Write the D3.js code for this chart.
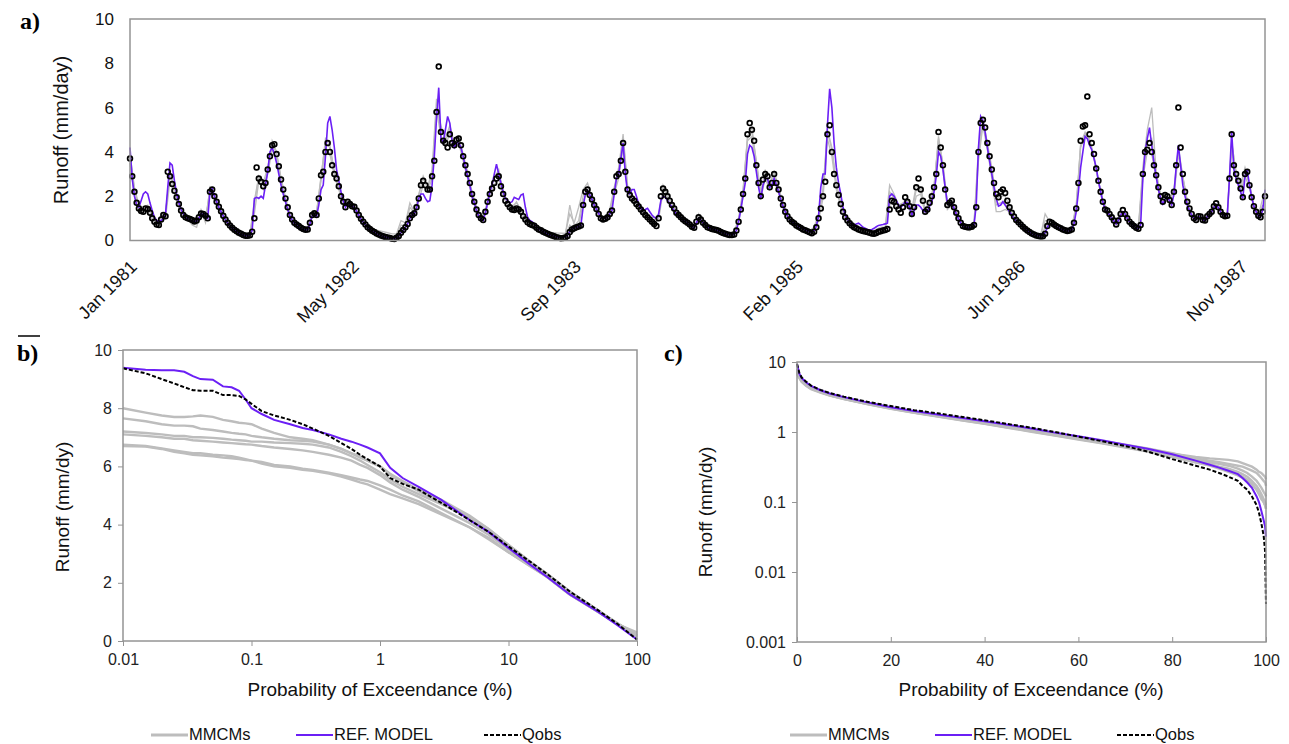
<!DOCTYPE html>
<html>
<head>
<meta charset="utf-8">
<script src="https://cdn.jsdelivr.net/npm/d3@7"></script>
<style>
body { margin: 0; background: #fff; }
</style>
</head>
<body>
<div id="chart"></div>
<script>
// ---- panel a: daily runoff 1981-1987 (read every 5 / 10 days) ----
var startDate = new Date(Date.UTC(1981, 0, 1));
var lastDay = 2555;
var obsStep = 5;
var mmStep = 10;
var dateTickDays = [0, 500, 1000, 1500, 2000, 2500];
var runoffTicks = [0, 2, 4, 6, 8, 10];

var qobsRunoff = [
 3.7,2.9,2.2,1.7,1.45,1.33,1.3,1.45,1.42,1.25,1.0,0.85,0.72,0.7,0.95,1.15,1.1,3.1,2.9,2.55,
 2.25,1.95,1.65,1.35,1.15,1.05,1.0,0.97,0.92,0.86,0.9,1.05,1.22,1.2,1.12,1.0,2.2,2.3,2.0,1.75,
 1.52,1.32,1.12,0.95,0.8,0.68,0.58,0.49,0.42,0.35,0.3,0.25,0.22,0.21,0.24,0.4,1.0,3.3,2.8,2.65,
 2.45,2.6,3.2,3.8,4.3,4.35,3.9,3.35,2.75,2.3,1.9,1.5,1.15,0.95,0.8,0.72,0.65,0.58,0.52,0.48,
 0.5,0.8,1.15,1.23,1.15,1.9,2.95,3.1,4.0,4.4,4.0,3.4,3.0,2.8,2.45,2.0,1.75,1.5,1.75,1.65,
 1.55,1.52,1.35,1.15,0.98,0.85,0.72,0.6,0.52,0.44,0.38,0.32,0.27,0.23,0.19,0.16,0.13,0.11,0.08,0.07,
 0.12,0.2,0.35,0.47,0.6,0.75,1.0,1.15,1.23,1.5,1.9,2.5,2.7,2.5,2.3,2.3,2.9,3.6,5.8,7.85,
 4.9,4.5,4.4,4.2,4.8,4.4,4.3,4.55,4.6,4.3,3.8,3.4,3.0,2.6,2.1,1.75,1.4,1.15,1.0,0.93,
 1.3,1.75,2.1,2.35,2.6,2.8,2.9,2.45,2.1,1.8,1.65,1.5,1.4,1.38,1.45,1.4,1.3,1.1,0.95,0.82,
 0.75,0.7,0.67,0.58,0.5,0.46,0.4,0.35,0.3,0.26,0.23,0.19,0.15,0.12,0.1,0.11,0.13,0.2,0.38,0.5,
 0.55,0.6,0.63,0.68,1.6,2.2,2.3,2.05,1.85,1.6,1.42,1.2,1.0,0.95,0.98,1.05,1.2,1.35,2.2,2.9,
 3.0,3.6,4.4,3.1,2.3,2.05,1.9,1.8,1.65,1.53,1.4,1.27,1.15,1.05,0.95,0.85,0.75,0.65,1.0,2.0,
 2.35,2.2,2.0,1.8,1.6,1.45,1.25,1.15,1.05,0.95,0.87,0.8,0.72,0.62,0.58,0.85,1.05,0.95,0.8,0.7,
 0.6,0.56,0.52,0.5,0.47,0.44,0.38,0.34,0.3,0.27,0.25,0.25,0.27,0.45,0.85,1.4,2.1,2.8,4.8,5.3,
 5.0,4.5,3.4,2.6,2.0,2.75,3.0,2.9,2.4,2.6,3.0,2.6,2.3,1.9,1.6,1.3,1.1,0.95,0.85,0.78,
 0.68,0.62,0.56,0.5,0.46,0.42,0.37,0.33,0.4,0.6,1.0,1.45,2.0,2.65,4.8,5.2,4.0,3.0,2.5,2.05,
 1.65,1.3,1.05,0.9,0.78,0.68,0.6,0.55,0.5,0.46,0.43,0.41,0.38,0.35,0.32,0.3,0.34,0.4,0.42,0.45,
 0.47,0.52,1.4,1.8,1.75,1.55,1.4,1.25,1.5,1.95,1.75,1.55,1.2,1.5,2.4,2.8,2.3,1.8,1.3,1.4,
 1.7,2.0,2.4,3.0,4.9,4.2,3.4,2.3,1.6,1.7,1.8,1.5,1.25,1.0,0.8,0.65,0.62,0.6,0.6,0.62,
 0.7,1.5,4.0,5.3,5.45,5.1,4.4,3.8,3.2,2.6,2.1,1.95,2.2,2.3,2.15,1.8,1.5,1.25,1.08,0.93,
 0.82,0.72,0.62,0.53,0.45,0.38,0.32,0.27,0.23,0.2,0.18,0.19,0.3,0.65,0.85,0.8,0.72,0.65,0.6,0.55,
 0.5,0.46,0.43,0.45,0.5,0.8,1.45,2.6,4.5,5.15,5.2,6.5,4.8,4.4,3.9,3.25,2.7,2.2,1.75,1.4,
 1.35,1.2,1.05,0.9,0.72,0.9,1.2,1.38,1.2,1.0,0.85,0.74,0.65,0.58,0.53,0.7,3.0,4.0,4.1,4.4,
 4.0,3.4,2.95,2.4,2.0,1.75,2.05,2.0,1.83,1.6,2.2,3.4,6.0,4.2,3.0,2.2,1.75,1.45,1.2,1.0,
 0.93,1.1,1.08,0.93,0.9,1.1,1.2,1.3,1.55,1.68,1.5,1.3,1.15,1.1,1.12,2.8,4.8,3.4,3.0,2.7,
 2.35,1.95,3.0,3.1,2.5,1.95,1.55,1.3,1.12,1.05,1.3,2.0
];

var refRunoff = [
 4.2,2.8,2.0,1.6,1.5,1.8,2.1,2.2,2.1,1.7,1.35,1.05,0.9,0.85,0.9,1.0,1.2,2.4,3.5,3.4,
 2.7,2.1,1.7,1.4,1.2,1.05,0.98,0.94,0.9,0.85,0.88,1.0,1.2,1.18,1.1,1.0,2.2,2.35,2.0,1.75,
 1.5,1.3,1.1,0.93,0.78,0.66,0.56,0.47,0.4,0.34,0.29,0.25,0.22,0.21,0.24,0.45,1.9,1.95,1.9,2.0,
 1.9,2.5,3.1,4.0,4.2,3.9,3.5,3.0,2.5,2.1,1.75,1.4,1.1,0.92,0.78,0.68,0.6,0.55,0.5,0.47,
 0.5,0.75,1.1,1.2,1.1,1.6,2.3,2.5,3.8,5.3,5.6,5.0,4.2,3.2,2.7,2.2,1.8,1.5,1.7,1.65,
 1.55,1.5,1.33,1.13,0.96,0.83,0.7,0.59,0.51,0.43,0.37,0.31,0.26,0.22,0.19,0.16,0.13,0.11,0.09,0.08,
 0.12,0.2,0.35,0.47,0.6,0.75,1.0,1.15,1.2,1.45,1.9,2.1,2.1,1.9,1.75,1.8,2.5,3.8,5.5,6.9,
 4.6,4.4,5.0,5.6,5.3,4.5,4.2,4.4,4.4,4.2,3.8,3.3,2.9,2.5,2.0,1.7,1.35,1.1,0.95,0.9,
 1.25,1.7,2.2,2.5,3.0,3.45,3.0,2.6,2.2,1.9,1.8,1.7,1.75,1.95,1.9,1.85,2.05,2.1,1.5,1.05,
 0.9,0.85,0.75,0.62,0.52,0.46,0.4,0.35,0.3,0.26,0.23,0.2,0.17,0.15,0.14,0.15,0.17,0.23,0.4,0.52,
 0.57,0.6,0.63,0.68,1.5,2.1,2.25,2.05,1.85,1.6,1.42,1.22,1.05,1.0,1.0,1.05,1.2,1.35,2.1,2.8,
 3.0,3.7,4.4,3.0,2.2,2.1,2.3,2.3,2.0,1.65,1.45,1.35,1.4,1.45,1.3,1.15,1.05,1.0,1.2,1.8,
 2.0,1.95,1.8,1.65,1.5,1.35,1.2,1.1,1.0,0.92,0.85,0.78,0.7,0.62,0.58,0.8,1.0,0.92,0.8,0.7,
 0.6,0.56,0.52,0.5,0.47,0.44,0.39,0.35,0.31,0.28,0.26,0.26,0.28,0.45,0.85,1.4,2.0,2.6,3.9,4.3,
 4.2,3.8,3.1,2.4,1.9,2.5,2.8,2.8,2.4,2.5,2.8,2.5,2.2,1.85,1.55,1.3,1.1,0.95,0.85,0.78,
 0.7,0.64,0.58,0.52,0.48,0.44,0.4,0.38,0.45,0.65,1.1,2.4,3.0,3.0,5.2,6.85,6.0,4.4,3.3,2.6,
 2.1,1.5,1.15,0.95,0.85,0.75,0.7,0.75,0.78,0.7,0.6,0.55,0.5,0.48,0.5,0.55,0.62,0.68,0.7,0.72,
 0.75,0.78,2.0,2.1,2.0,1.8,1.6,1.5,1.6,1.75,1.7,1.5,1.15,1.35,1.6,1.6,1.5,1.35,1.3,1.3,
 1.55,1.75,2.2,2.9,4.0,3.8,3.2,2.4,1.7,1.6,1.7,1.45,1.2,0.98,0.8,0.65,0.6,0.58,0.58,0.6,
 0.7,1.6,4.2,5.6,5.4,4.9,4.2,3.6,3.0,2.4,1.9,1.55,1.6,1.75,1.6,1.45,1.3,1.15,1.0,0.9,
 0.8,0.7,0.6,0.52,0.44,0.37,0.32,0.27,0.24,0.22,0.21,0.22,0.35,0.6,0.75,0.72,0.68,0.62,0.57,0.52,
 0.48,0.45,0.43,0.44,0.48,0.75,1.3,2.2,3.3,4.0,4.7,4.6,4.3,4.1,3.7,3.3,2.7,2.2,1.75,1.4,
 1.3,1.15,1.0,0.88,0.75,0.9,1.15,1.3,1.2,1.0,0.85,0.74,0.65,0.58,0.53,0.7,2.8,4.0,4.6,5.1,
 4.3,3.5,2.9,2.3,1.9,1.65,1.85,1.95,1.8,1.6,2.1,3.3,4.3,3.4,2.5,2.0,1.6,1.35,1.15,1.0,
 0.95,1.08,1.05,0.93,0.9,1.08,1.18,1.3,1.5,1.62,1.48,1.3,1.15,1.1,1.12,2.8,4.9,3.2,2.8,2.5,
 2.2,1.9,2.9,3.2,2.5,1.95,1.55,1.3,1.12,1.05,1.4,2.3
];

var mmcm1 = [
 3.9,2.4,1.6,1.5,1.6,1.1,0.8,1.0,1.3,3.0, 2.3,1.7,1.2,0.95,0.7,0.6,1.4,1.0,2.3,2.0,
 1.5,1.15,0.85,0.65,0.5,0.4,0.35,0.3,1.6,2.9, 2.6,3.3,4.4,3.9,2.8,1.9,1.2,0.85,0.7,0.6,
 0.55,1.3,1.3,2.8,4.6,4.3,3.1,2.5,1.8,1.7, 1.6,1.4,1.0,0.75,0.6,0.5,0.45,0.4,0.35,0.3,
 0.3,0.9,0.8,1.7,1.3,2.0,2.9,2.4,3.2,6.4, 5.0,4.6,5.2,4.4,4.7,3.9,3.1,2.2,1.5,1.05,
 1.4,2.2,2.9,3.1,2.2,1.75,1.55,1.7,1.4,1.0, 0.8,0.7,0.55,0.45,0.38,0.36,0.34,0.33,0.32,1.2,
 0.8,1.5,2.3,2.6,1.9,1.5,1.05,1.0,1.4,2.4, 3.3,4.8,2.5,2.0,1.75,1.5,1.2,1.0,0.8,1.1,
 2.5,2.1,1.7,1.3,1.1,0.9,0.75,0.6,1.2,0.85, 0.65,0.55,0.5,0.42,0.35,0.32,0.4,1.0,2.3,4.6,
 4.9,3.6,2.2,3.1,2.6,3.1,2.4,1.7,1.15,0.9, 0.72,0.6,0.5,0.45,0.6,1.2,2.3,5.0,4.2,2.6,
 1.7,1.1,0.8,0.62,0.55,0.5,0.45,0.4,0.5,0.6, 0.6,2.5,2.1,1.6,1.7,1.9,1.4,2.5,2.4,1.4,
 1.8,2.5,4.5,3.5,1.7,1.9,1.3,0.85,0.62,0.52, 0.8,4.2,5.5,4.4,3.3,1.9,2.0,2.0,1.55,1.1,
 0.85,0.65,0.5,0.38,0.3,0.28,0.9,0.9,0.75,0.62, 0.52,0.46,0.6,1.6,4.3,4.8,4.5,3.8,2.7,1.8,
 1.4,1.1,0.8,1.3,1.2,0.9,0.7,0.58,3.3,5.0, 6.0,3.1,2.1,2.1,1.9,2.3,4.2,2.9,1.8,1.25,
 1.0,1.1,0.95,1.25,1.6,1.6,1.2,1.2,4.4,3.1, 2.5,3.3,2.6,1.6,1.2,1.6
];

var mmcm2 = [
 3.5,2.0,1.35,1.2,1.3,0.9,0.65,0.85,1.0,2.7, 2.1,1.5,1.05,0.9,0.8,0.8,1.1,1.0,2.1,1.9,
 1.4,1.0,0.72,0.52,0.38,0.27,0.2,0.22,1.2,2.7, 2.3,3.0,4.1,3.7,2.6,1.8,1.05,0.72,0.58,0.47,
 0.45,1.05,1.1,2.7,4.2,3.9,2.9,2.3,1.6,1.6, 1.45,1.25,0.9,0.65,0.47,0.34,0.25,0.18,0.12,0.08,
 0.15,0.5,0.55,1.2,1.15,1.8,2.5,2.2,2.8,5.9, 4.7,4.2,4.9,4.2,4.4,3.6,2.8,1.9,1.3,0.9,
 1.2,2.0,2.5,2.8,2.0,1.55,1.3,1.5,1.2,0.88, 0.68,0.6,0.45,0.36,0.27,0.2,0.14,0.1,0.15,0.7,
 0.5,0.6,1.8,2.2,1.75,1.35,0.92,0.92,1.1,2.1, 2.8,4.2,2.2,1.8,1.55,1.3,1.1,0.9,0.7,0.95,
 2.2,1.9,1.5,1.15,0.95,0.8,0.66,0.52,0.95,0.75, 0.55,0.48,0.42,0.34,0.27,0.23,0.27,0.8,2.0,4.5,
 4.7,3.2,1.9,2.8,2.3,2.8,2.2,1.5,1.0,0.78, 0.62,0.5,0.42,0.34,0.38,0.9,1.9,4.6,3.8,2.3,
 1.5,0.95,0.7,0.55,0.46,0.4,0.35,0.3,0.32,0.4, 0.45,1.6,1.7,1.3,1.4,1.6,1.1,2.0,2.1,1.2,
 1.6,2.2,4.6,3.2,1.4,1.6,1.15,0.75,0.52,0.44, 0.65,3.6,5.2,4.1,2.8,1.3,1.3,1.4,1.3,1.0,
 0.75,0.56,0.4,0.3,0.22,0.18,0.6,0.8,0.65,0.55, 0.46,0.4,0.48,1.3,4.4,4.9,4.5,3.7,2.6,1.65,
 1.25,0.95,0.68,1.1,1.1,0.8,0.6,0.5,2.8,4.0, 3.9,2.8,1.9,1.95,1.7,2.0,3.9,2.8,1.65,1.1,
 0.85,1.0,0.85,1.1,1.45,1.4,1.05,1.05,4.2,2.9, 2.2,2.9,2.4,1.45,1.05,1.2
];

var mmcm3 = [
 3.8,2.3,1.5,1.4,1.5,1.0,0.7,1.1,1.2,3.1, 2.4,1.7,1.15,0.9,0.85,0.75,1.3,0.8,2.4,2.1,
 1.55,1.15,0.82,0.6,0.45,0.34,0.27,0.27,1.8,2.9, 2.5,3.1,4.5,4.0,2.8,1.95,1.15,0.8,0.66,0.55,
 0.52,1.2,1.25,2.9,4.4,4.2,3.1,2.4,1.7,1.8, 1.6,1.35,1.0,0.72,0.54,0.42,0.33,0.26,0.2,0.15,
 0.2,0.7,0.65,1.5,1.25,2.1,2.8,2.35,3.0,6.0, 5.2,4.5,5.0,4.3,4.5,3.8,3.0,2.1,1.45,1.0,
 1.3,2.2,2.8,3.2,2.1,1.7,1.45,1.75,1.35,0.95, 0.75,0.68,0.52,0.42,0.33,0.26,0.2,0.15,0.25,1.6,
 0.65,0.9,2.0,2.4,1.85,1.45,1.0,1.05,1.25,2.3, 3.1,4.6,2.4,1.95,1.7,1.45,1.15,0.95,0.75,1.05,
 2.4,2.0,1.65,1.25,1.05,0.85,0.7,0.56,1.1,0.8, 0.6,0.52,0.46,0.38,0.3,0.27,0.3,0.9,2.2,4.7,
 5.1,3.5,2.1,3.2,2.5,3.0,2.35,1.6,1.1,0.85, 0.7,0.58,0.48,0.4,0.5,1.1,2.2,4.9,4.1,2.5,
 1.6,1.05,0.78,0.6,0.5,0.45,0.4,0.36,0.4,0.5, 0.55,2.2,1.9,1.5,1.6,1.8,1.3,2.3,2.3,1.3,
 1.7,2.4,4.7,3.4,1.5,1.8,1.25,0.8,0.58,0.5, 0.75,3.9,5.35,4.3,3.1,1.6,1.7,1.8,1.45,1.05,
 0.8,0.6,0.45,0.34,0.26,0.22,1.2,0.85,0.7,0.58, 0.5,0.44,0.55,1.5,4.2,4.7,4.6,3.8,2.7,1.75,
 1.35,1.05,0.75,1.25,1.25,0.85,0.65,0.55,3.1,4.4, 4.6,3.0,2.0,2.05,1.85,2.2,4.0,2.9,1.75,1.2,
 0.95,1.05,0.9,1.2,1.55,1.5,1.15,1.15,4.5,3.0, 2.4,3.2,2.5,1.55,1.15,1.9
];

// ---- panel b: flow duration, log probability axis ----
var bProb = [0.01,0.015,0.02,0.025,0.03,0.035,0.04,0.05,0.06,0.07,0.08,0.09,0.1,0.12,0.15,0.2,0.25,0.3,0.4,0.5,0.6,0.7,0.8,1,1.2,1.5,2,3,5,7,10,15,20,30,50,70,100];
var bProbTicks = [0.01, 0.1, 1, 10, 100];
var bProbLabels = ["0.01", "0.1", "1", "10", "100"];
var bQobs = [9.37,9.2,9.0,8.85,8.72,8.62,8.6,8.6,8.45,8.45,8.42,8.3,8.15,7.9,7.75,7.6,7.45,7.3,7.05,6.8,6.6,6.4,6.25,6.0,5.6,5.4,5.2,4.75,4.15,3.75,3.25,2.7,2.3,1.7,1.05,0.6,0.05];
var bRef = [9.39,9.32,9.3,9.3,9.25,9.1,9.0,8.98,8.75,8.72,8.6,8.3,8.0,7.8,7.6,7.45,7.32,7.25,7.1,6.95,6.85,6.75,6.65,6.45,5.95,5.6,5.3,4.85,4.15,3.75,3.2,2.6,2.2,1.6,1.0,0.55,0.05];
var bMmcm1 = [8.0,7.85,7.75,7.7,7.7,7.72,7.75,7.7,7.6,7.55,7.5,7.48,7.45,7.3,7.15,7.0,6.95,6.9,6.75,6.6,6.45,6.3,6.2,6.0,5.7,5.45,5.15,4.75,4.2,3.8,3.25,2.65,2.25,1.65,1.0,0.6,0.15];
var bMmcm2 = [7.65,7.55,7.45,7.4,7.4,7.38,7.3,7.25,7.2,7.15,7.12,7.1,7.05,7.0,6.95,6.9,6.88,6.85,6.75,6.6,6.45,6.35,6.2,6.0,5.75,5.5,5.2,4.85,4.3,3.85,3.3,2.7,2.3,1.7,1.05,0.62,0.2];
var bMmcm3 = [7.2,7.15,7.1,7.05,7.05,7.0,7.0,6.98,6.95,6.92,6.9,6.88,6.85,6.85,6.82,6.8,6.78,6.75,6.65,6.5,6.35,6.2,6.05,5.8,5.55,5.3,5.05,4.7,4.25,3.85,3.3,2.7,2.3,1.7,1.05,0.6,0.25];
var bMmcm4 = [7.1,7.05,7.0,6.95,6.95,6.9,6.88,6.85,6.82,6.8,6.78,6.76,6.75,6.7,6.65,6.6,6.55,6.5,6.4,6.3,6.2,6.05,5.95,5.7,5.45,5.2,4.95,4.55,4.05,3.65,3.15,2.6,2.2,1.6,1.0,0.58,0.3];
var bMmcm5 = [6.75,6.7,6.62,6.55,6.5,6.45,6.45,6.4,6.38,6.35,6.3,6.25,6.2,6.15,6.05,6.0,5.92,5.88,5.78,5.7,5.62,5.55,5.5,5.35,5.2,5.0,4.8,4.4,3.9,3.55,3.05,2.55,2.2,1.6,1.0,0.6,0.2];
var bMmcm6 = [6.7,6.68,6.6,6.5,6.45,6.4,6.38,6.35,6.3,6.28,6.25,6.22,6.2,6.1,6.0,5.95,5.88,5.85,5.75,5.65,5.55,5.45,5.38,5.2,5.05,4.9,4.7,4.35,3.9,3.5,3.05,2.55,2.2,1.6,1.0,0.62,0.15];

// ---- panel c: flow duration, log runoff axis ----
var cProb = [0,0.5,1,2,3,5,7,10,15,20,25,30,35,40,45,50,55,60,65,70,75,80,85,88,90,92,94,95,96,97,98,98.5,99,99.5,99.8,100];
var cProbTicks = [0, 20, 40, 60, 80, 100];
var cRunoffTicks = [0.001, 0.01, 0.1, 1, 10];
var cRunoffLabels = ["0.001", "0.01", "0.1", "1", "10"];
var cQobs = [9.4,7.0,6.0,5.2,4.6,4.0,3.6,3.2,2.7,2.35,2.05,1.85,1.65,1.47,1.3,1.15,1.0,0.86,0.74,0.63,0.52,0.41,0.33,0.29,0.26,0.23,0.2,0.17,0.15,0.12,0.09,0.07,0.05,0.033,0.02,0.0035];
var cRef = [9.4,6.8,5.9,5.1,4.55,3.95,3.55,3.15,2.65,2.25,2.0,1.78,1.6,1.42,1.27,1.12,0.98,0.87,0.76,0.66,0.57,0.48,0.39,0.34,0.31,0.28,0.25,0.22,0.19,0.16,0.12,0.1,0.075,0.055,0.045,0.032];
var cMmcm1 = [8.0,6.5,5.6,4.8,4.3,3.8,3.45,3.05,2.6,2.25,1.95,1.72,1.52,1.36,1.2,1.05,0.93,0.82,0.72,0.64,0.56,0.49,0.44,0.42,0.41,0.4,0.38,0.36,0.34,0.32,0.29,0.27,0.26,0.24,0.23,0.21];
var cMmcm2 = [7.6,6.3,5.5,4.75,4.3,3.8,3.45,3.05,2.58,2.22,1.93,1.7,1.5,1.33,1.17,1.03,0.91,0.8,0.7,0.62,0.54,0.47,0.4,0.37,0.35,0.33,0.3,0.28,0.26,0.23,0.2,0.18,0.16,0.14,0.13,0.12];
var cMmcm3 = [7.2,6.2,5.4,4.7,4.2,3.75,3.4,3.0,2.55,2.2,1.92,1.7,1.5,1.34,1.18,1.04,0.92,0.81,0.71,0.62,0.54,0.46,0.37,0.33,0.3,0.27,0.24,0.22,0.2,0.18,0.15,0.13,0.12,0.1,0.09,0.08];
var cMmcm4 = [7.1,6.1,5.3,4.65,4.2,3.7,3.35,2.98,2.52,2.18,1.9,1.68,1.48,1.32,1.16,1.02,0.9,0.79,0.7,0.61,0.53,0.45,0.38,0.35,0.32,0.3,0.27,0.25,0.23,0.2,0.17,0.15,0.13,0.11,0.1,0.09];
var cMmcm5 = [6.8,6.0,5.3,4.6,4.15,3.7,3.35,2.97,2.5,2.17,1.9,1.69,1.5,1.34,1.19,1.06,0.94,0.84,0.74,0.66,0.58,0.5,0.42,0.39,0.37,0.35,0.33,0.32,0.3,0.28,0.26,0.24,0.22,0.2,0.19,0.17];
var cMmcm6 = [6.7,5.9,5.2,4.55,4.1,3.65,3.3,2.95,2.5,2.15,1.88,1.66,1.47,1.31,1.15,1.01,0.89,0.78,0.69,0.6,0.52,0.44,0.37,0.34,0.31,0.28,0.25,0.23,0.21,0.18,0.15,0.13,0.11,0.1,0.09,0.08];

var legendNames = ["MMCMs", "REF. MODEL", "Qobs"];

// ---- styles ----
var purple = "#6b1ff5";
var grey = "#bdbdbd";
var frameColor = "#949494";
var sansFont = "'Liberation Sans', Arial, sans-serif";
var serifFont = "'Liberation Serif', 'Times New Roman', serif";

var svg = d3.select("#chart")
    .append("svg")
    .attr("width", 1289)
    .attr("height", 744)
    .style("font-family", sansFont);

function styleAxis(g, size, color) {
    g.attr("font-family", sansFont).attr("font-size", size);
    g.select(".domain").remove();
    g.selectAll("text").attr("fill", color);
    g.selectAll("line").attr("stroke", frameColor);
}

// ================= panel a =================
var xA = d3.scaleUtc()
    .domain([startDate, d3.utcDay.offset(startDate, lastDay)])
    .range([130, 1265]);
var yA = d3.scaleLinear().domain([0, 10]).range([240.5, 19]);

function lineA(step) {
    return d3.line()
        .x(function(d, i) { return xA(d3.utcDay.offset(startDate, i * step)); })
        .y(function(d) { return yA(d); });
}

var pa = svg.append("g").attr("id", "panelA");

[mmcm1, mmcm2, mmcm3].forEach(function(s) {
    pa.append("path")
        .attr("d", lineA(mmStep)(s))
        .style("fill", "none")
        .style("stroke", grey)
        .style("stroke-width", 1.3);
});
pa.append("path")
    .attr("d", lineA(obsStep)(refRunoff))
    .style("fill", "none")
    .style("stroke", purple)
    .style("stroke-width", 1.6);
pa.selectAll("circle.obs")
    .data(qobsRunoff)
    .enter()
    .append("circle")
    .attr("class", "obs")
    .attr("cx", function(d, i) { return xA(d3.utcDay.offset(startDate, i * obsStep)); })
    .attr("cy", function(d) { return yA(d); })
    .attr("r", 2.4)
    .style("fill", "none")
    .style("stroke", "#000")
    .style("stroke-width", 1.7);

pa.append("rect")
    .attr("x", 130).attr("y", 19)
    .attr("width", 1135).attr("height", 221.5)
    .style("fill", "none").style("stroke", frameColor).style("stroke-width", 1.5);

pa.append("g")
    .attr("transform", "translate(130,0)")
    .call(d3.axisLeft(yA).tickValues(runoffTicks).tickSize(0).tickPadding(16))
    .call(function(g) { styleAxis(g, 17, "#111"); });

pa.append("g")
    .attr("transform", "translate(0,240.5)")
    .call(d3.axisBottom(xA)
        .tickValues(dateTickDays.map(function(d) { return d3.utcDay.offset(startDate, d); }))
        .tickFormat(d3.utcFormat("%b %Y"))
        .tickSize(0))
    .call(function(g) {
        styleAxis(g, 18, "#111");
        g.selectAll("text")
            .attr("x", 0).attr("y", 0).attr("dy", "0.35em")
            .attr("text-anchor", "end")
            .attr("transform", "translate(3,23) rotate(-45)");
    });

pa.append("text")
    .attr("transform", "translate(68,130) rotate(-90)")
    .attr("text-anchor", "middle")
    .attr("font-size", 20)
    .attr("fill", "#111")
    .text("Runoff (mm/day)");

svg.append("text")
    .attr("x", 20).attr("y", 29)
    .attr("font-family", serifFont).attr("font-weight", "bold").attr("font-size", 24)
    .text("a)");

// ================= panel b =================
var xB = d3.scaleLog().domain([0.01, 100]).range([123, 637]);
var yB = d3.scaleLinear().domain([0, 10]).range([641, 350]);
var lineB = d3.line()
    .x(function(d, i) { return xB(bProb[i]); })
    .y(function(d) { return yB(d); });

var pb = svg.append("g").attr("id", "panelB");
[bMmcm1, bMmcm2, bMmcm3, bMmcm4, bMmcm5, bMmcm6].forEach(function(s) {
    pb.append("path").attr("d", lineB(s))
        .style("fill", "none").style("stroke", grey).style("stroke-width", 2.4);
});
pb.append("path").attr("d", lineB(bRef))
    .style("fill", "none").style("stroke", purple).style("stroke-width", 2);
pb.append("path").attr("d", lineB(bQobs))
    .style("fill", "none").style("stroke", "#000").style("stroke-width", 2)
    .style("stroke-dasharray", "4,2");

pb.append("rect")
    .attr("x", 123).attr("y", 350).attr("width", 514).attr("height", 291)
    .style("fill", "none").style("stroke", frameColor).style("stroke-width", 1.5);

pb.append("g")
    .attr("transform", "translate(123,0)")
    .call(d3.axisLeft(yB).tickValues(runoffTicks).tickSize(5).tickPadding(6))
    .call(function(g) { styleAxis(g, 16, "#222"); });
pb.append("g")
    .attr("transform", "translate(0,641)")
    .call(d3.axisBottom(xB).tickValues(bProbTicks)
        .tickFormat(function(d, i) { return bProbLabels[i]; })
        .tickSize(5).tickPadding(8))
    .call(function(g) { styleAxis(g, 16, "#222"); });

pb.append("text")
    .attr("x", 380).attr("y", 696)
    .attr("text-anchor", "middle").attr("font-size", 19).attr("fill", "#111")
    .text("Probability of Exceendance (%)");
pb.append("text")
    .attr("transform", "translate(69,507) rotate(-90)")
    .attr("text-anchor", "middle").attr("font-size", 19).attr("fill", "#111")
    .text("Runoff (mm/dy)");

svg.append("line")
    .attr("x1", 18).attr("x2", 40).attr("y1", 336).attr("y2", 336)
    .style("stroke", "#000").style("stroke-width", 1.5);
svg.append("text")
    .attr("x", 17).attr("y", 361)
    .attr("font-family", serifFont).attr("font-weight", "bold").attr("font-size", 24)
    .text("b)");

// ================= panel c =================
var xC = d3.scaleLinear().domain([0, 100]).range([797, 1266]);
var yC = d3.scaleLog().domain([0.001, 10]).range([642, 362]);
var lineC = d3.line()
    .x(function(d, i) { return xC(cProb[i]); })
    .y(function(d) { return yC(d); });

var pc = svg.append("g").attr("id", "panelC");
[cMmcm1, cMmcm2, cMmcm3, cMmcm4, cMmcm5, cMmcm6].forEach(function(s) {
    pc.append("path").attr("d", lineC(s))
        .style("fill", "none").style("stroke", grey).style("stroke-width", 2.4);
});
pc.append("path").attr("d", lineC(cRef))
    .style("fill", "none").style("stroke", purple).style("stroke-width", 2);
pc.append("path").attr("d", lineC(cQobs))
    .style("fill", "none").style("stroke", "#000").style("stroke-width", 2)
    .style("stroke-dasharray", "4,2");

pc.append("rect")
    .attr("x", 797).attr("y", 362).attr("width", 469).attr("height", 280)
    .style("fill", "none").style("stroke", frameColor).style("stroke-width", 1.5);

pc.append("g")
    .attr("transform", "translate(797,0)")
    .call(d3.axisLeft(yC).tickValues(cRunoffTicks)
        .tickFormat(function(d, i) { return cRunoffLabels[i]; })
        .tickSize(5).tickPadding(6))
    .call(function(g) { styleAxis(g, 16, "#222"); });
pc.append("g")
    .attr("transform", "translate(0,642)")
    .call(d3.axisBottom(xC).tickValues(cProbTicks).tickSize(-5).tickPadding(13))
    .call(function(g) { styleAxis(g, 16, "#222"); });

pc.append("text")
    .attr("x", 1031).attr("y", 696)
    .attr("text-anchor", "middle").attr("font-size", 19).attr("fill", "#111")
    .text("Probability of Exceendance (%)");
pc.append("text")
    .attr("transform", "translate(712,512) rotate(-90)")
    .attr("text-anchor", "middle").attr("font-size", 19).attr("fill", "#111")
    .text("Runoff (mm/dy)");

svg.append("text")
    .attr("x", 664).attr("y", 361)
    .attr("font-family", serifFont).attr("font-weight", "bold").attr("font-size", 24)
    .text("c)");

// ================= legends =================
var legendStyles = [
    { color: grey, width: 3, dash: null },
    { color: purple, width: 2, dash: null },
    { color: "#000", width: 2, dash: "4,2" }
];
function drawLegend(x0s) {
    legendNames.forEach(function(name, i) {
        var s = legendStyles[i];
        var ln = svg.append("line")
            .attr("x1", x0s[i]).attr("x2", x0s[i] + 37)
            .attr("y1", 735).attr("y2", 735)
            .style("stroke", s.color).style("stroke-width", s.width);
        if (s.dash) ln.style("stroke-dasharray", s.dash);
        svg.append("text")
            .attr("x", x0s[i] + 38).attr("y", 740)
            .attr("font-size", 16.5).attr("fill", "#111")
            .text(name);
    });
}
drawLegend([151, 296, 484]);
drawLegend([790, 935, 1117]);
</script>
</body>
</html>
